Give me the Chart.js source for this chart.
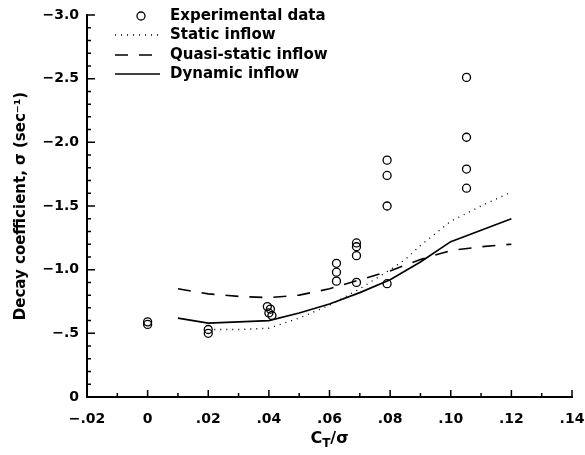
<!DOCTYPE html>
<html>
<head>
<meta charset="utf-8">
<script src="https://cdn.jsdelivr.net/npm/chart.js@4/dist/chart.umd.min.js"></script>
<style>
  html, body { margin: 0; padding: 0; background: #fff; }
  #wrap { width: 585px; height: 455px; }
</style>
</head>
<body>
<div id="wrap"><canvas id="c" width="585" height="455"></canvas></div>
<script>
// experimental points (C_T/sigma, decay coefficient)
const expX = [0, 0, 0.02, 0.02, 0.0395, 0.0405, 0.04, 0.041, 0.0623, 0.0623, 0.0623, 0.0689, 0.0689, 0.0689, 0.0689, 0.079, 0.079, 0.079, 0.079, 0.1052, 0.1052, 0.1052, 0.1052];
const expY = [-0.59, -0.57, -0.53, -0.50, -0.71, -0.69, -0.66, -0.64, -1.05, -0.98, -0.91, -1.21, -1.18, -1.11, -0.90, -1.86, -1.74, -1.50, -0.89, -2.51, -2.04, -1.79, -1.64];

// theory curves
const staticX = [0.022, 0.03, 0.04, 0.045, 0.05, 0.06, 0.07, 0.08, 0.085, 0.09, 0.10, 0.11, 0.12];
const staticY = [-0.53, -0.53, -0.54, -0.58, -0.62, -0.72, -0.85, -1.00, -1.08, -1.19, -1.38, -1.50, -1.61];

const quasiX = [0.01, 0.02, 0.03, 0.04, 0.05, 0.06, 0.07, 0.08, 0.09, 0.10, 0.11, 0.12];
const quasiY = [-0.85, -0.81, -0.79, -0.78, -0.80, -0.85, -0.92, -0.99, -1.08, -1.15, -1.18, -1.20];

const dynX = [0.01, 0.02, 0.03, 0.04, 0.05, 0.06, 0.07, 0.08, 0.09, 0.10, 0.11, 0.12];
const dynY = [-0.62, -0.58, -0.59, -0.60, -0.66, -0.73, -0.82, -0.92, -1.06, -1.22, -1.31, -1.40];

// axis ticks
const xTickValues = [-0.02, 0, 0.02, 0.04, 0.06, 0.08, 0.10, 0.12, 0.14];
const xTickLabels = ['\u2212.02', '0', '.02', '.04', '.06', '.08', '.10', '.12', '.14'];
const yTickValues = [-3.0, -2.5, -2.0, -1.5, -1.0, -0.5, 0];
const yTickLabels = ['\u22123.0', '\u22122.5', '\u22122.0', '\u22121.5', '\u22121.0', '\u2212.5', '0'];

const legendLabels = ['Experimental data', 'Static inflow', 'Quasi-static inflow', 'Dynamic inflow'];

const pairs = (xs, ys) => xs.map((x, i) => ({ x, y: ys[i] }));
const FONT = 'DejaVu Sans';

// inward ticks, minor ticks, legend, x title
const decorPlugin = {
  id: 'decor',
  afterDraw(chart) {
    const ctx = chart.ctx;
    const xs = chart.scales.x, ys = chart.scales.y;
    const area = chart.chartArea;
    ctx.save();
    ctx.strokeStyle = '#000';
    ctx.lineWidth = 1.5;
    ctx.beginPath();
    for (let i = 0; i <= 16; i++) {
      const v = -0.02 + i * 0.01;
      const px = xs.getPixelForValue(v);
      const len = i % 2 === 0 ? 7 : 4;
      ctx.moveTo(px, area.bottom);
      ctx.lineTo(px, area.bottom - len);
    }
    for (let i = 0; i <= 30; i++) {
      const v = -i * 0.1;
      const py = ys.getPixelForValue(v);
      const len = i % 5 === 0 ? 8 : 4;
      ctx.moveTo(area.left, py);
      ctx.lineTo(area.left + len, py);
    }
    ctx.stroke();

    // legend
    const lx0 = 115, lx1 = 158, tx = 170;
    const rows = [16, 35, 55, 74];
    ctx.fillStyle = '#000';
    ctx.font = 'bold 15px "' + FONT + '"';
    ctx.textBaseline = 'middle';
    ctx.textAlign = 'left';
    legendLabels.forEach((t, i) => ctx.fillText(t, tx, rows[i]));

    ctx.lineWidth = 1.3;
    ctx.beginPath();
    ctx.arc(141, rows[0], 4, 0, Math.PI * 2);
    ctx.stroke();

    ctx.lineWidth = 1.3;
    ctx.setLineDash([1, 5]);
    ctx.beginPath(); ctx.moveTo(lx0, rows[1]); ctx.lineTo(lx1, rows[1]); ctx.stroke();
    ctx.lineWidth = 1.6;
    ctx.setLineDash([13, 11]);
    ctx.beginPath(); ctx.moveTo(lx0, rows[2]); ctx.lineTo(lx1, rows[2]); ctx.stroke();
    ctx.setLineDash([]);
    ctx.beginPath(); ctx.moveTo(lx0, rows[3]); ctx.lineTo(lx1 + 2, rows[3]); ctx.stroke();

    // x axis title C_T / sigma
    const cx = (area.left + area.right) / 2;
    const ty = 437;
    ctx.font = 'bold 16px "' + FONT + '"';
    const wC = ctx.measureText('C').width;
    ctx.font = 'bold 12px "' + FONT + '"';
    const wT = ctx.measureText('T').width;
    ctx.font = 'bold 16px "' + FONT + '"';
    const wS = ctx.measureText('/\u03c3').width;
    let x = cx - (wC + wT + wS) / 2;
    ctx.textBaseline = 'alphabetic';
    ctx.fillText('C', x, ty + 6);
    x += wC;
    ctx.font = 'bold 12px "' + FONT + '"';
    ctx.fillText('T', x, ty + 10);
    x += wT;
    ctx.font = 'bold 16px "' + FONT + '"';
    ctx.fillText('/\u03c3', x, ty + 6);
    ctx.restore();
  }
};

new Chart(document.getElementById('c'), {
  type: 'scatter',
  data: {
    datasets: [
      {
        label: legendLabels[0],
        data: pairs(expX, expY),
        pointStyle: 'circle',
        pointRadius: 4,
        borderWidth: 1.3,
        borderColor: '#000',
        backgroundColor: 'rgba(0,0,0,0)'
      },
      {
        label: legendLabels[1],
        type: 'line',
        data: pairs(staticX, staticY),
        borderColor: '#000',
        borderWidth: 1.3,
        borderDash: [1, 5],
        pointRadius: 0,
        fill: false,
        tension: 0
      },
      {
        label: legendLabels[2],
        type: 'line',
        data: pairs(quasiX, quasiY),
        borderColor: '#000',
        borderWidth: 1.6,
        borderDash: [13, 11],
        pointRadius: 0,
        fill: false,
        tension: 0
      },
      {
        label: legendLabels[3],
        type: 'line',
        data: pairs(dynX, dynY),
        borderColor: '#000',
        borderWidth: 1.7,
        pointRadius: 0,
        fill: false,
        tension: 0
      }
    ]
  },
  options: {
    responsive: false,
    animation: false,
    layout: { padding: { top: 15, right: 13, left: 0, bottom: 0 } },
    plugins: {
      legend: { display: false },
      tooltip: { enabled: false }
    },
    scales: {
      x: {
        type: 'linear',
        min: -0.02,
        max: 0.14,
        grid: { display: false, drawTicks: false },
        border: { display: true, color: '#000', width: 2 },
        afterBuildTicks: (scale) => { scale.ticks = xTickValues.map(v => ({ value: v })); },
        afterFit: (scale) => { scale.height = 58; scale.paddingLeft = 0; scale.paddingRight = 0; },
        ticks: {
          autoSkip: false,
          maxRotation: 0,
          padding: 14,
          color: '#000',
          font: { family: FONT, size: 14, weight: 'bold' },
          callback: (v, i) => xTickLabels[i]
        }
      },
      y: {
        type: 'linear',
        min: -3,
        max: 0,
        reverse: true,
        grid: { display: false, drawTicks: false },
        border: { display: true, color: '#000', width: 2 },
        afterBuildTicks: (scale) => { scale.ticks = yTickValues.map(v => ({ value: v })); },
        afterFit: (scale) => { scale.width = 87; scale.paddingTop = 0; scale.paddingBottom = 0; },
        ticks: {
          padding: 8,
          color: '#000',
          font: { family: FONT, size: 14, weight: 'bold' },
          callback: (v, i) => yTickLabels[i]
        },
        title: {
          display: true,
          text: 'Decay coefficient, \u03c3 (sec\u207b\u00b9)',
          color: '#000',
          font: { family: FONT, size: 15, weight: 'bold' },
          padding: { top: 12, bottom: 0 }
        }
      }
    }
  },
  plugins: [decorPlugin]
});
</script>
</body>
</html>
